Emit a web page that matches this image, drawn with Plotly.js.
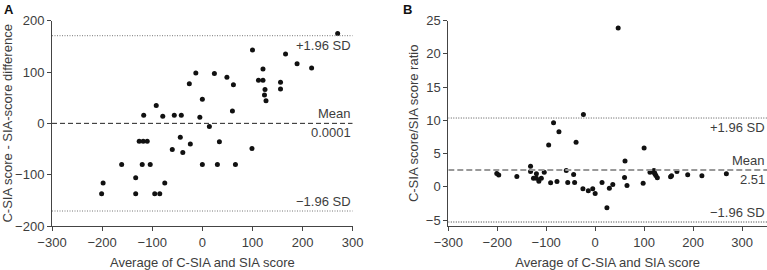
<!DOCTYPE html>
<html>
<head>
<meta charset="utf-8">
<script src="https://cdn.plot.ly/plotly-3.0.1.min.js"></script>
<style>html,body{margin:0;padding:0;background:#fff;}#chart{width:767px;height:270px;}</style>
</head>
<body>
<div id="chart"></div>
<script>
// Panel A: Bland-Altman of differences
const avgA = [-201,-198,-161,-133,-133,-126,-120,-118,-117,-110,-104,-95,-92,-85,-79,-75,-60,-56,-44,-42,-39,-26,-24,-13,-5,0,0,14,24,30,34,49,60,62,66,99,100,112,121,121,124,125,127,156,156,166,189,218,270];
const diffA = [-137,-116,-80,-106,-137,-35,-80,-35,16,-35,-80,-137,35,-137,14,-116,-51,16,-27,16,-57,77,-40,98,12,47,-80,-6,97,-80,-36,90,24,75,-80,-49,143,84,106,84,55,66,44,80,67,135,116,108,175];
const meanA = 0.0001, upperA = 170.8, lowerA = -170.8;

// Panel B: Bland-Altman of ratios
const avgB = [-201,-197,-160,-132,-132,-126,-120,-120,-115,-110,-104,-95,-91,-85,-78,-74,-59,-56,-44,-42,-39,-24,-25,-14,-5,0,14,24,29,36,47,60,61,65,98,100,112,120,121,122,124,127,154,156,167,189,218,268];
const ratioB = [2.0,1.76,1.56,3.1,2.3,1.3,1.96,1.3,0.85,1.3,2.2,6.3,0.6,9.65,0.8,8.3,2.46,0.65,1.86,0.65,6.7,10.9,-0.3,-0.6,-0.3,-1.0,0.65,-3.17,-0.2,0.35,23.9,1.4,3.87,0.2,0.55,5.83,2.2,2.47,2.1,1.97,1.7,1.36,1.5,1.65,2.3,1.8,1.66,1.96];
const meanB = 2.51, upperB = 10.35, lowerB = -5.3;

const xTicks = [-300,-200,-100,0,100,200,300];
const yTicksA = [-200,-100,0,100,200];
const yTicksB = [-5,0,5,10,15,20,25];

const FONT = "Liberation Sans, Arial, Helvetica, sans-serif";
const TXT = "#3d3d3d";
const FS = 13;

const traces = [
  {x: avgA, y: diffA, xaxis: 'x', yaxis: 'y', mode: 'markers', type: 'scatter',
   marker: {color: '#111', size: 5}, hoverinfo: 'skip'},
  {x: avgB, y: ratioB, xaxis: 'x2', yaxis: 'y2', mode: 'markers', type: 'scatter',
   marker: {color: '#111', size: 5}, hoverinfo: 'skip'}
];

function axisBase() {
  return {showgrid: false, zeroline: false, showline: true, linecolor: '#444', linewidth: 1,
          ticks: 'outside', ticklen: 4, tickcolor: '#444', tickwidth: 1,
          tickfont: {family: FONT, size: FS, color: TXT}, fixedrange: true};
}

const layout = {
  width: 767, height: 270,
  margin: {l: 0, r: 0, t: 0, b: 0},
  paper_bgcolor: '#fff', plot_bgcolor: '#fff',
  showlegend: false,
  font: {family: FONT, size: FS, color: TXT},
  xaxis: Object.assign(axisBase(), {domain: [52/767, 352.7/767], range: [-300, 300], tickvals: xTicks,
    anchor: 'y', title: {text: 'Average of C-SIA and SIA score', font: {family: FONT, size: FS, color: TXT}, standoff: 9}}),
  yaxis: Object.assign(axisBase(), {domain: [44/270, 249.3/270], range: [-200, 200], tickvals: yTicksA,
    anchor: 'x', title: {text: 'C-SIA score - SIA-score difference', font: {family: FONT, size: FS, color: TXT}, standoff: 6}}),
  xaxis2: Object.assign(axisBase(), {domain: [448.3/767, 1], range: [-300, 351], tickvals: xTicks,
    anchor: 'y2', title: {text: 'Average of C-SIA and SIA score', font: {family: FONT, size: FS, color: TXT}, standoff: 9}}),
  yaxis2: Object.assign(axisBase(), {domain: [44/270, 249.3/270], range: [-5.9, 25], tickvals: yTicksB,
    anchor: 'x2', title: {text: 'C-SIA score/SIA score ratio', font: {family: FONT, size: FS, color: TXT}, standoff: 4}}),
  shapes: [
    {type: 'line', xref: 'x', yref: 'y', x0: -300, x1: 300, y0: upperA, y1: upperA, line: {color: '#777', width: 1, dash: '1px,1.5px'}},
    {type: 'line', xref: 'x', yref: 'y', x0: -300, x1: 300, y0: lowerA, y1: lowerA, line: {color: '#777', width: 1, dash: '1px,1.5px'}},
    {type: 'line', xref: 'x', yref: 'y', x0: -300, x1: 300, y0: meanA, y1: meanA, line: {color: '#222', width: 1, dash: '5px,3px'}},
    {type: 'line', xref: 'x2', yref: 'y2', x0: -300, x1: 351, y0: upperB, y1: upperB, line: {color: '#555', width: 1, dash: '1px,1.5px'}},
    {type: 'line', xref: 'x2', yref: 'y2', x0: -300, x1: 351, y0: lowerB, y1: lowerB, line: {color: '#333', width: 1, dash: '1px,1.5px'}},
    {type: 'line', xref: 'x2', yref: 'y2', x0: -300, x1: 351, y0: meanB, y1: meanB, line: {color: '#999', width: 2, dash: '6px,3px'}}
  ],
  annotations: [
    {xref: 'paper', yref: 'paper', x: 2/767, y: 1, xanchor: 'left', yanchor: 'top', showarrow: false,
     text: '<b>A</b>', font: {family: FONT, size: 13, color: '#111'}},
    {xref: 'paper', yref: 'paper', x: 401/767, y: 1, xanchor: 'left', yanchor: 'top', showarrow: false,
     text: '<b>B</b>', font: {family: FONT, size: 13, color: '#111'}},
    {xref: 'x', yref: 'y', x: 300, y: upperA, xanchor: 'right', yanchor: 'top', showarrow: false, text: '+1.96 SD', font: {family: FONT, size: FS, color: TXT}},
    {xref: 'x', yref: 'y', x: 300, y: meanA, xanchor: 'right', yanchor: 'bottom', showarrow: false, text: 'Mean', font: {family: FONT, size: FS, color: TXT}},
    {xref: 'x', yref: 'y', x: 300, y: meanA, xanchor: 'right', yanchor: 'top', showarrow: false, text: String(meanA), font: {family: FONT, size: FS, color: TXT}},
    {xref: 'x', yref: 'y', x: 300, y: lowerA, xanchor: 'right', yanchor: 'bottom', showarrow: false, text: '\u22121.96 SD', font: {family: FONT, size: FS, color: TXT}},
    {xref: 'x2', yref: 'y2', x: 351, y: upperB, xanchor: 'right', yanchor: 'top', showarrow: false, text: '+1.96 SD', font: {family: FONT, size: FS, color: TXT}},
    {xref: 'x2', yref: 'y2', x: 351, y: meanB, xanchor: 'right', yanchor: 'bottom', showarrow: false, text: 'Mean', font: {family: FONT, size: FS, color: TXT}},
    {xref: 'x2', yref: 'y2', x: 351, y: meanB, xanchor: 'right', yanchor: 'top', showarrow: false, text: String(meanB), font: {family: FONT, size: FS, color: TXT}},
    {xref: 'x2', yref: 'y2', x: 351, y: lowerB, xanchor: 'right', yanchor: 'bottom', showarrow: false, text: '\u22121.96 SD', font: {family: FONT, size: FS, color: TXT}}
  ]
};

Plotly.newPlot('chart', traces, layout, {staticPlot: true, displayModeBar: false});
</script>
</body>
</html>
